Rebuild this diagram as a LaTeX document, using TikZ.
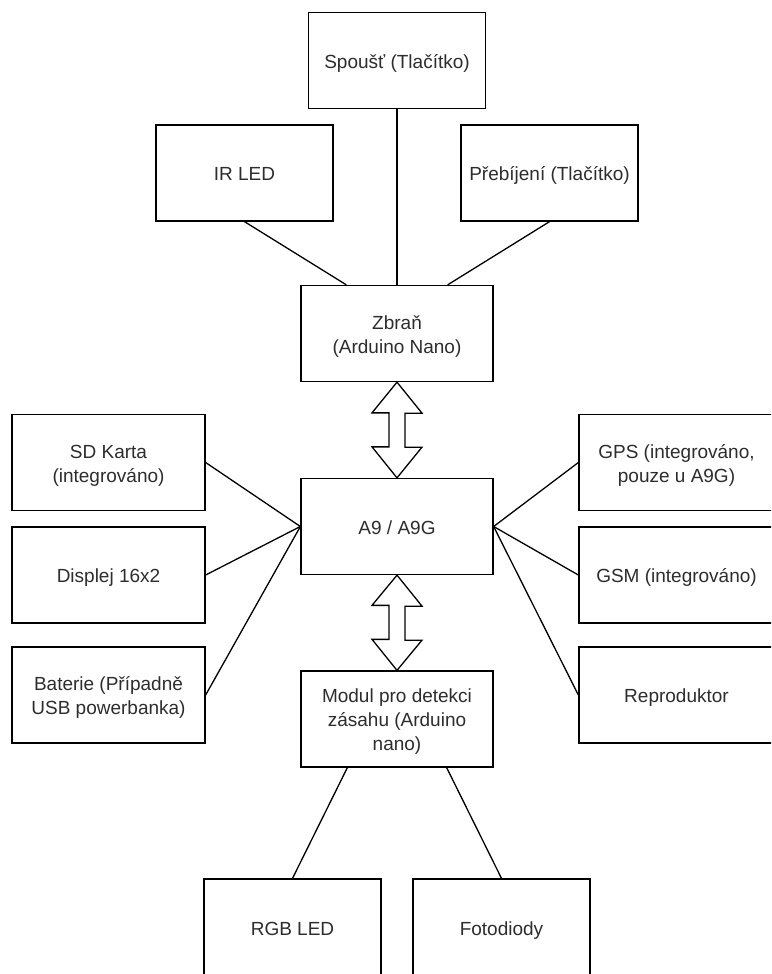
\documentclass[tikz,border=0pt]{standalone}
\usepackage{fontspec}
\setmainfont{Liberation Sans}
\usetikzlibrary{calc}
\definecolor{txt}{RGB}{45,45,45}
\newcommand\ls{\rule[-4.5pt]{0pt}{24pt}}
\tikzset{
  box/.style={draw=black, line width=1.3pt, fill=white, align=center, inner sep=0pt,
    text=txt, font=\fontsize{19}{24}\selectfont},
  boxa/.style={box, minimum width=177pt, minimum height=96pt},
  boxb/.style={box, minimum width=192pt, minimum height=96pt},
  boxc/.style={box, minimum width=193pt, minimum height=96pt},
  link/.style={draw=black, line width=1.3pt},
  dblarr/.style={draw=black, line width=1.3pt, fill=white, line join=miter}
}
\begin{document}
\begin{tikzpicture}[x=1pt, y=-1pt]
\useasboundingbox (0,0) rectangle (771,974);
\clip (0,0) rectangle (771,974);
\fill[white] (0,0) rectangle (771,974);

\node[boxa] (spoust) at (397,60.5) {\ls Spoušť (Tlačítko)};
\node[boxa] (irled) at (244.5,173) {\ls IR LED};
\node[boxa] (prebij) at (549.5,173) {\ls Přebíjení (Tlačítko)};
\node[boxb] (zbran) at (397,333.5) {\ls Zbraň\\\ls (Arduino Nano)};
\node[boxb] (a9) at (397,526.5) {\ls A9 / A9G};
\node[boxb] (modul) at (397,719) {\ls Modul pro detekci\\\ls zásahu (Arduino\\\ls nano)};
\node[boxc] (sd) at (108.5,462.5) {\ls SD Karta\\\ls (integrováno)};
\node[boxc] (disp) at (108.5,575) {\ls Displej 16x2};
\node[boxc] (bat) at (108.5,695) {\ls Baterie (Případně\\\ls USB powerbanka)};
\node[boxc, minimum width=195pt] (gps) at (676.5,462.5) {\ls GPS (integrováno,\\\ls pouze u A9G)};
\node[boxc, minimum width=195pt] (gsm) at (676.5,575) {\ls GSM (integrováno)};
\node[boxc, minimum width=195pt] (repro) at (676.5,695) {\ls Reproduktor};
\node[boxa, minimum height=97pt] (rgb) at (292.5,927.5) {\ls RGB LED};
\node[boxa, minimum height=97pt] (foto) at (501.5,927.5) {\ls Fotodiody};

\draw[link] (spoust.south) -- (zbran.north);
\draw[link] (irled.south) -- ($(zbran.north west)+(46,0)$);
\draw[link] (prebij.south) -- ($(zbran.north east)+(-46,0)$);

\draw[link] (sd.east) -- (a9.west);
\draw[link] (disp.east) -- (a9.west);
\draw[link] (bat.east) -- (a9.west);
\draw[link] (a9.east) -- (gps.west);
\draw[link] (a9.east) -- (gsm.west);
\draw[link] (a9.east) -- (repro.west);

\draw[link] ($(modul.south west)+(47,0)$) -- (rgb.north);
\draw[link] ($(modul.south east)+(-47,0)$) -- (foto.north);

\draw[dblarr] (zbran.south) -- ++(25,31) -- ++(-17,0) -- ++(0,34) -- ++(17,0)
  -- (a9.north) -- ++(-25,-31) -- ++(17,0) -- ++(0,-34) -- ++(-17,0) -- cycle;
\draw[dblarr] (a9.south) -- ++(25,31) -- ++(-17,0) -- ++(0,34) -- ++(17,0)
  -- (modul.north) -- ++(-25,-31) -- ++(17,0) -- ++(0,-34) -- ++(-17,0) -- cycle;
\end{tikzpicture}
\end{document}
